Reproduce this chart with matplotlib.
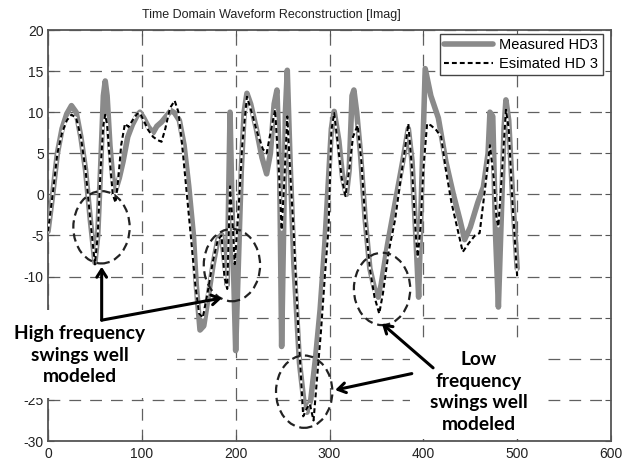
import matplotlib
matplotlib.use("Agg")
import matplotlib.pyplot as plt
from matplotlib.patches import Ellipse, Rectangle

plt.rcParams['font.family'] = ['Liberation Sans', 'DejaVu Sans']
plt.rcParams['lines.scale_dashes'] = False

# ---------------- data ----------------
meas_x = [0, 5, 10, 15, 20, 25, 30, 35, 40, 45, 50, 53, 56, 59, 61, 63, 66, 69, 72, 76,
          80, 85, 90, 95, 98, 102, 107, 112, 116, 121, 126, 131, 135, 140, 145, 150, 155,
          158, 162, 166, 170, 176, 181, 185, 188, 191, 194, 197, 200, 203, 206, 209, 212,
          216, 222, 228, 233, 237, 241, 244, 247, 249, 251, 253, 255, 258, 262, 268, 273,
          276, 280, 285, 290, 295, 299, 302, 305, 310, 314, 318, 321, 324, 326, 329, 333,
          338, 343, 348, 352, 355, 362, 370, 378, 384, 388, 392, 395, 398, 402, 408, 416,
          424, 432, 439, 444, 450, 458, 464, 469, 471, 474, 477, 480, 483, 486, 488, 491,
          495, 500]
meas_y = [-4.5, 0, 5, 8, 9.8, 10.8, 10, 7, 3, -3, -8.3, -5, 3, 12, 13.8, 12, 6, 2, 0.5, 2,
          4, 7, 8.5, 9.6, 10, 9.3, 8.2, 7.5, 8.3, 8.8, 9.5, 10.2, 9.9, 9, 6, 1, -5,
          -11, -16.5, -16, -13, -8.5, -5.5, -4.9, -8, -11, 10, -6, -19, -8, 3, 10, 12.3,
          11, 8, 4.5, 2.5, 5, 11, 12.7, 2, -18.5, -5, 10, 15.1, 4, -8.4, -20.5, -25.5,
          -26.5, -25, -20, -14, -6, 2, 8, 10.1, 6.5, 2, 0, 3, 12, 12.7, 10, 5,
          -3, -9, -11.5, -12.5, -11, -6, -1, 4, 8, 4, -5, -12.5, 0, 15.3, 12, 9.3,
          4, 0, -3.1, -5.5, -4, -1, 0.9, 5, 10, 9.5, -5, -13.7, -3, 8, 11.5, 9,
          0, -9]

est_x = [0, 5, 10, 15, 20, 25, 30, 35, 40, 45, 50, 53, 56, 59, 61, 63, 66, 69, 72, 75,
         78, 82, 86, 90, 95, 98, 102, 107, 112, 117, 121, 125, 130, 135, 139, 143, 148,
         153, 157, 161, 165, 170, 176, 181, 185, 188, 191, 194, 197, 199, 203, 207, 212,
         217, 223, 229, 233, 238, 242, 246, 249, 252, 255, 258, 262, 267, 272, 276, 279,
         283, 287, 291, 295, 299, 302, 305, 309, 313, 317, 321, 325, 330, 334, 338, 343,
         348, 353, 357, 363, 370, 376, 381, 384, 388, 392, 394, 397, 400, 404, 408, 414,
         419, 424, 430, 436, 442, 448, 455, 460, 465, 471, 475, 478, 480, 484, 488, 491,
         495, 500]
est_y = [-4.5, 0, 5, 7.5, 9, 9.7, 9.3, 7, 3, -3, -8.5, -5, 3, 8.5, 9.7, 8.5, 4, 0, -1, 2,
         6, 8.6, 8.2, 9, 9.8, 9.9, 9, 7.8, 7, 6.6, 6.4, 8, 10.5, 11.4, 10, 6, 0,
         -6, -11, -14.5, -15, -12, -8, -5.5, -5, -10, -11.5, 1, -4, -8.5, -2, 6, 11.9,
         10, 7.5, 5.5, 5, 8, 10.3, 3, -4.3, 2, 9.5, 3, -5, -17, -27, -26, -25.5,
         -27.5, -22, -16.5, -10, -4, 7.8, 9.9, 6, 2, -0.2, 3, 7, 8.4, 4, -3, -9,
         -12.5, -14.5, -12, -7, -3, 2, 6, 8.6, 3, -5, -7.6, -4, 3, 8.6, 8.4, 7.8,
         7, 3, -1, -4, -7, -6, -5, -4.7, 0, 6, 2, -3, -3.9, 3, 10.3, 8,
         -1, -10]

x_ticks = [0, 100, 200, 300, 400, 500, 600]
x_tick_labels = ["0", "100", "200", "300", "400", "500", "600"]
y_ticks = [20, 15, 10, 5, 0, -5, -10, -15, -20, -25, -30]
# -15 and -20 are hidden behind the annotation box in the reference
y_tick_labels = ["20", "15", "10", "5", "0", "-5", "-10", "", "", "-25", "-30"]
series_labels = ["Measured HD3", "Esimated HD 3"]
title = "Time Domain Waveform Reconstruction [Imag]"
note_high = "High frequency\nswings well\nmodeled"
note_low = "Low\nfrequency\nswings well\nmodeled"
circle_centers = [(57, -4.0), (196, -8.6), (273, -24.0), (356, -11.5)]

# ---------------- figure ----------------
W, H = 635, 461
fig = plt.figure(figsize=(W / 100, H / 100), dpi=100)
ax = fig.add_axes([48 / W, 1 - 441 / H, 563 / W, 411 / H])

def fx(px):
    return px / W

def fy(py):
    return 1 - py / H

ax.set_xlim(0, 600)
ax.set_ylim(-30, 20)
ax.set_xticks(x_ticks)
ax.set_xticklabels(x_tick_labels)
ax.set_yticks(y_ticks)
ax.set_yticklabels(y_tick_labels)
ax.tick_params(direction='in', length=4, width=0.8, colors='#555555',
               labelcolor='#222222', labelsize=10, top=True, right=True)
ax.tick_params(axis='x', pad=4)
ax.tick_params(axis='y', pad=3)
for s in ax.spines.values():
    s.set_color('#555555')
    s.set_linewidth(1.3)

ax.grid(True, color='#606060', linewidth=0.9, linestyle=(0, (8.5, 6.5)))
ax.set_axisbelow(True)

ax.plot(meas_x, meas_y, color='#8a8a8a', linewidth=4.0, solid_capstyle='round',
        solid_joinstyle='round', label=series_labels[0], zorder=3)
ax.plot(est_x, est_y, color='white', linewidth=1.5, zorder=4)
ax.plot(est_x, est_y, color='black', linewidth=1.5, linestyle=(0, (3.5, 2.2)),
        label=series_labels[1], zorder=5)

for (cx, cy) in circle_centers:
    ax.add_patch(Ellipse((cx, cy), 60, 8.8, fill=False, edgecolor='#222222',
                         linewidth=1.6, linestyle=(0, (6, 3.5)), zorder=6))

leg = ax.legend(loc='upper right', bbox_to_anchor=(0.985, 0.99), fontsize=10.5,
                frameon=True, fancybox=False, framealpha=1, edgecolor='#444444',
                handlelength=3.3, handletextpad=0.45, borderpad=0.3,
                labelspacing=0.3, borderaxespad=0)
leg.get_frame().set_linewidth(1.0)
leg.set_zorder(7)

fig.text(fx(271), fy(15), title, ha='center', va='center', fontsize=9,
         color='#222222')

# white boxes behind the notes (they cover spine / ticks)
for (x0, y0, x1, y1) in [(8, 310, 177, 398), (410, 343, 545, 439)]:
    ax.add_patch(Rectangle((fx(x0), fy(y1)), fx(x1) - fx(x0), fy(y0) - fy(y1),
                           transform=fig.transFigure, facecolor='white',
                           edgecolor='none', clip_on=False, zorder=20))

ax.text(fx(80), fy(355), note_high, transform=fig.transFigure, ha='center',
        va='center', fontsize=13.8, fontweight='bold', family='Lato',
        linespacing=1.33, color='black', zorder=21)
ax.text(fx(479), fy(392), note_low, transform=fig.transFigure, ha='center',
        va='center', fontsize=13.8, fontweight='bold', family='Lato',
        linespacing=1.33, color='black', zorder=21)

arrow_kw = dict(arrowstyle='->,head_length=0.55,head_width=0.35', color='black',
                lw=2.2, shrinkA=0, shrinkB=0)
corner = (57.2, -15.3)
for tip, start in [((57.2, -8.8), corner), ((185.5, -12.6), corner),
                   ((355.8, -15.7), (410.4, -21.1)), ((306, -23.8), (387.7, -21.8))]:
    a = ax.annotate('', xy=tip, xytext=start, arrowprops=arrow_kw,
                    annotation_clip=False)
    a.set_zorder(22)

fig.savefig('out.png', dpi=100)
